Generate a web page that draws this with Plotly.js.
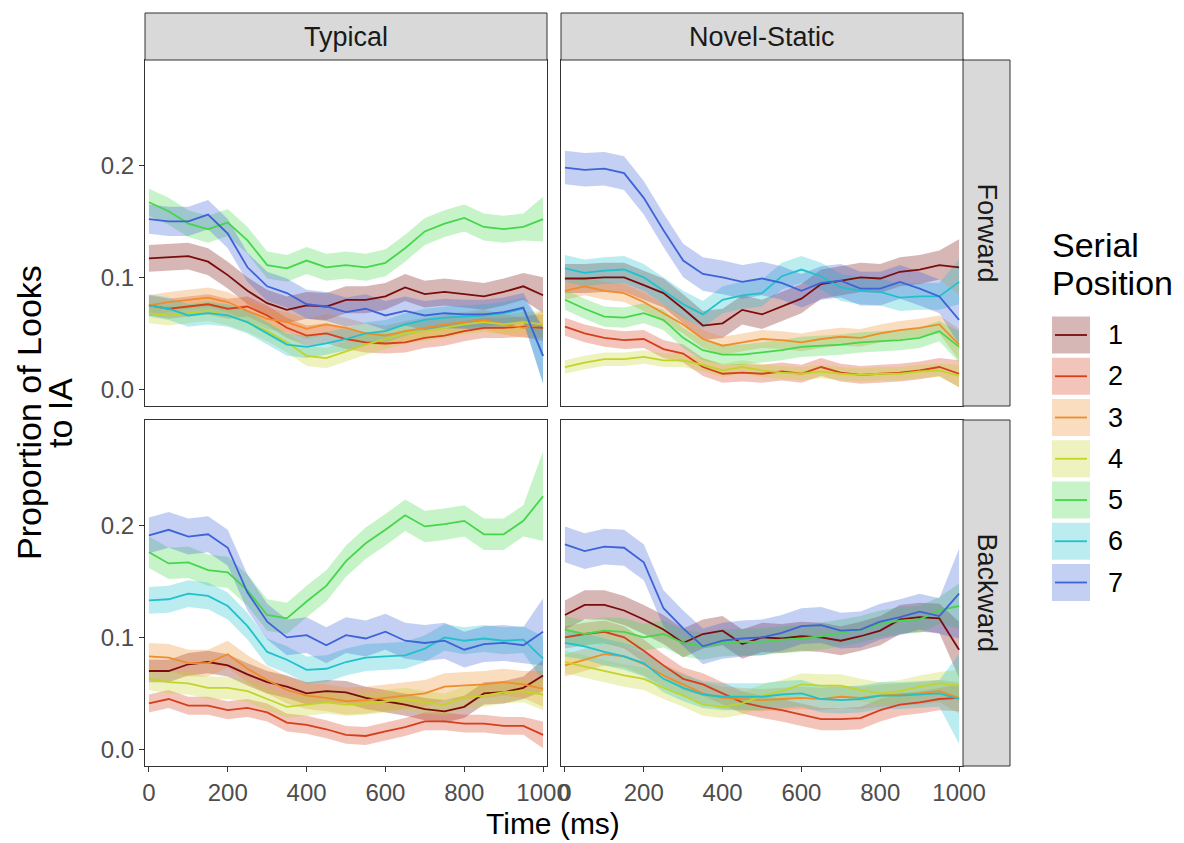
<!DOCTYPE html>
<html><head><meta charset="utf-8">
<script src="https://cdn.plot.ly/plotly-3.0.1.min.js"></script>
<style>html,body{margin:0;padding:0;background:#fff}#chart{width:1184px;height:843px}</style>
</head><body><div id="chart"></div>
<script>
const times = [0,50,100,150,200,250,300,350,400,450,500,550,600,650,700,750,800,850,900,950,1000];
const positions = ['1','2','3','4','5','6','7'];
const lineColors = ['#7a0c0c','#d63e1c','#f08c2a','#c2d42a','#46d64c','#1fc2cc','#3d63d6'];
const fillAlpha = 0.3;
const conditions = ['Typical','Novel-Static'];
const directions = ['Forward','Backward'];
const xTicks = [0,200,400,600,800,1000];
const xTickText = ['0','200','400','600','800','1000'];
const yTicks = [0,0.1,0.2];
const yTickText = ['0.0','0.1','0.2'];

// Typical / Forward, series 1..7
const typicalForward = [
 [0.117,0.118,0.119,0.114,0.102,0.088,0.077,0.071,0.075,0.074,0.080,0.080,0.083,0.091,0.085,0.087,0.085,0.083,0.087,0.092,0.084],
 [0.075,0.072,0.074,0.076,0.072,0.074,0.066,0.055,0.048,0.050,0.045,0.042,0.041,0.042,0.046,0.048,0.052,0.055,0.055,0.056,0.055],
 [0.075,0.078,0.080,0.082,0.078,0.070,0.063,0.060,0.054,0.058,0.055,0.050,0.048,0.052,0.055,0.058,0.060,0.062,0.058,0.055,0.058],
 [0.068,0.066,0.068,0.070,0.066,0.060,0.052,0.042,0.030,0.028,0.034,0.040,0.045,0.050,0.052,0.055,0.058,0.060,0.058,0.060,0.058],
 [0.167,0.159,0.148,0.143,0.149,0.133,0.111,0.108,0.115,0.109,0.111,0.109,0.113,0.126,0.141,0.148,0.153,0.145,0.143,0.145,0.152],
 [0.075,0.072,0.066,0.068,0.066,0.060,0.050,0.040,0.038,0.041,0.045,0.050,0.052,0.058,0.062,0.064,0.065,0.066,0.068,0.072,0.030],
 [0.152,0.150,0.150,0.156,0.139,0.109,0.092,0.086,0.076,0.074,0.069,0.072,0.066,0.070,0.066,0.068,0.067,0.067,0.069,0.073,0.030]
];
// Novel-Static / Forward
const novelForward = [
 [0.099,0.099,0.100,0.100,0.093,0.086,0.072,0.057,0.059,0.071,0.067,0.074,0.081,0.094,0.097,0.100,0.099,0.105,0.107,0.111,0.109],
 [0.056,0.050,0.046,0.044,0.045,0.036,0.032,0.020,0.014,0.015,0.014,0.016,0.014,0.020,0.015,0.013,0.014,0.015,0.017,0.020,0.014],
 [0.088,0.092,0.088,0.086,0.078,0.068,0.058,0.045,0.039,0.042,0.045,0.044,0.042,0.045,0.047,0.046,0.050,0.053,0.055,0.058,0.040],
 [0.020,0.024,0.027,0.027,0.029,0.026,0.026,0.022,0.017,0.020,0.017,0.015,0.014,0.016,0.014,0.013,0.014,0.014,0.016,0.017,0.012],
 [0.080,0.072,0.065,0.064,0.068,0.062,0.046,0.035,0.031,0.031,0.033,0.035,0.038,0.039,0.040,0.042,0.043,0.044,0.046,0.052,0.038],
 [0.108,0.104,0.106,0.107,0.100,0.088,0.076,0.067,0.080,0.084,0.086,0.101,0.107,0.101,0.091,0.088,0.087,0.082,0.083,0.083,0.096],
 [0.198,0.196,0.197,0.193,0.171,0.142,0.115,0.103,0.100,0.096,0.099,0.095,0.088,0.095,0.097,0.090,0.090,0.096,0.090,0.083,0.062]
];
// Typical / Backward
const typicalBackward = [
 [0.070,0.070,0.076,0.078,0.075,0.067,0.060,0.056,0.050,0.052,0.051,0.046,0.043,0.040,0.036,0.034,0.038,0.050,0.051,0.055,0.066],
 [0.041,0.045,0.039,0.039,0.035,0.037,0.033,0.024,0.022,0.018,0.013,0.012,0.016,0.020,0.025,0.025,0.023,0.023,0.021,0.021,0.013],
 [0.083,0.082,0.077,0.077,0.085,0.072,0.062,0.053,0.048,0.046,0.043,0.044,0.046,0.048,0.050,0.056,0.057,0.058,0.060,0.058,0.054],
 [0.063,0.060,0.059,0.055,0.055,0.052,0.045,0.038,0.040,0.042,0.040,0.041,0.043,0.045,0.042,0.040,0.046,0.048,0.051,0.052,0.049],
 [0.176,0.166,0.167,0.160,0.158,0.142,0.120,0.117,0.132,0.146,0.168,0.184,0.196,0.209,0.199,0.201,0.204,0.192,0.192,0.204,0.226],
 [0.133,0.134,0.139,0.137,0.128,0.110,0.087,0.080,0.071,0.072,0.078,0.082,0.083,0.084,0.090,0.100,0.097,0.099,0.097,0.098,0.081],
 [0.191,0.196,0.190,0.192,0.180,0.140,0.114,0.100,0.102,0.093,0.102,0.099,0.105,0.097,0.095,0.097,0.089,0.094,0.095,0.093,0.105]
];
// Novel-Static / Backward
const novelBackward = [
 [0.120,0.129,0.129,0.124,0.116,0.107,0.095,0.103,0.106,0.094,0.100,0.099,0.101,0.100,0.097,0.101,0.106,0.116,0.118,0.117,0.089],
 [0.100,0.103,0.105,0.100,0.088,0.075,0.063,0.058,0.050,0.042,0.038,0.035,0.031,0.027,0.027,0.028,0.035,0.040,0.042,0.045,0.046],
 [0.075,0.080,0.085,0.083,0.076,0.066,0.058,0.050,0.046,0.045,0.044,0.045,0.046,0.045,0.047,0.046,0.048,0.049,0.050,0.052,0.046],
 [0.078,0.074,0.070,0.066,0.063,0.055,0.048,0.040,0.038,0.041,0.048,0.052,0.058,0.057,0.057,0.053,0.050,0.052,0.056,0.059,0.057],
 [0.107,0.103,0.106,0.105,0.100,0.103,0.095,0.092,0.095,0.096,0.096,0.098,0.099,0.101,0.104,0.107,0.112,0.115,0.116,0.124,0.128],
 [0.095,0.092,0.087,0.083,0.077,0.063,0.055,0.049,0.047,0.047,0.047,0.049,0.050,0.045,0.044,0.045,0.048,0.048,0.049,0.050,0.045],
 [0.183,0.177,0.181,0.180,0.167,0.126,0.108,0.092,0.097,0.099,0.100,0.104,0.110,0.111,0.106,0.107,0.114,0.118,0.123,0.119,0.139]
];
// ribbon half-widths (per series), and at the final time point
const hwTypicalForward = [0.012,0.009,0.009,0.009,0.012,0.010,0.013];
const hwEndTypicalForward = [0.016,0.012,0.012,0.012,0.020,0.025,0.025];
const hwNovelForward = [0.013,0.008,0.008,0.006,0.009,0.012,0.015];
const hwEndNovelForward = [0.025,0.012,0.014,0.010,0.014,0.020,0.022];
const hwTypicalBackward = [0.010,0.008,0.012,0.010,0.014,0.012,0.016];
const hwEndTypicalBackward = [0.014,0.012,0.016,0.014,0.040,0.020,0.030];
const hwNovelBackward = [0.013,0.010,0.010,0.010,0.012,0.012,0.016];
const hwEndNovelBackward = [0.025,0.012,0.014,0.014,0.020,0.040,0.040];

const W = 1184, H = 843;
const px = x => x / W, py = y => 1 - y / H;

function rgba(hex, a) {
  const n = parseInt(hex.slice(1), 16);
  return `rgba(${(n>>16)&255},${(n>>8)&255},${n&255},${a})`;
}

const panels = [
  {data: typicalForward, hw: hwTypicalForward, hwEnd: hwEndTypicalForward, xa: 'x', ya: 'y'},
  {data: novelForward, hw: hwNovelForward, hwEnd: hwEndNovelForward, xa: 'x2', ya: 'y2'},
  {data: typicalBackward, hw: hwTypicalBackward, hwEnd: hwEndTypicalBackward, xa: 'x3', ya: 'y3'},
  {data: novelBackward, hw: hwNovelBackward, hwEnd: hwEndNovelBackward, xa: 'x4', ya: 'y4'}
];

const traces = [];
panels.forEach(p => {
  p.data.forEach((vals, s) => {
    const hwAt = i => (i === vals.length - 1 ? p.hwEnd[s] : p.hw[s]);
    const upper = vals.map((v, i) => v + hwAt(i));
    const lower = vals.map((v, i) => v - hwAt(i));
    traces.push({
      type: 'scatter', mode: 'lines', xaxis: p.xa, yaxis: p.ya,
      x: times.concat(times.slice().reverse()),
      y: upper.concat(lower.slice().reverse()),
      fill: 'toself', fillcolor: rgba(lineColors[s], fillAlpha),
      line: {width: 0, color: 'rgba(0,0,0,0)'}, hoverinfo: 'skip', showlegend: false
    });
  });
});
panels.forEach(p => {
  p.data.forEach((vals, s) => {
    traces.push({
      type: 'scatter', mode: 'lines', xaxis: p.xa, yaxis: p.ya,
      x: times, y: vals, name: positions[s],
      line: {color: lineColors[s], width: 1.8}, showlegend: false
    });
  });
});

const font = 'Liberation Sans, Arial, sans-serif';
const tickFont = {family: font, size: 24, color: '#4d4d4d'};
const xRange = [-10, 1010], yRange = [-0.0148, 0.294];
const colX = [[145, 547], [561, 963]];
const rowY = [[60, 406], [420, 766]];

function xAxis(col, row) {
  return {
    domain: [px(colX[col][0]), px(colX[col][1])], range: xRange, anchor: row === 0 ? (col === 0 ? 'y' : 'y2') : (col === 0 ? 'y3' : 'y4'),
    showgrid: false, zeroline: false, showline: true, mirror: true, linecolor: '#333333', linewidth: 1,
    tickvals: xTicks, ticktext: xTickText, ticks: row === 1 ? 'outside' : '', ticklen: 5, tickcolor: '#333333',
    showticklabels: row === 1, tickfont: tickFont, fixedrange: true
  };
}
function yAxis(col, row) {
  return {
    domain: [py(rowY[row][1]), py(rowY[row][0])], range: yRange, anchor: row === 0 ? (col === 0 ? 'x' : 'x2') : (col === 0 ? 'x3' : 'x4'),
    showgrid: false, zeroline: false, showline: true, mirror: true, linecolor: '#333333', linewidth: 1,
    tickvals: yTicks, ticktext: yTickText, ticks: col === 0 ? 'outside' : '', ticklen: 5, tickcolor: '#333333',
    showticklabels: col === 0, tickfont: tickFont, fixedrange: true
  };
}

const shapes = [];
const annotations = [];
// top strips
conditions.forEach((c, i) => {
  shapes.push({type: 'rect', xref: 'paper', yref: 'paper', x0: px(colX[i][0]), x1: px(colX[i][1]), y0: py(60), y1: py(13),
    fillcolor: '#d9d9d9', line: {color: '#333333', width: 1}});
  annotations.push({xref: 'paper', yref: 'paper', x: px((colX[i][0] + colX[i][1]) / 2), y: py(37), text: c, showarrow: false,
    font: {family: font, size: 27, color: '#1a1a1a'}, xanchor: 'center', yanchor: 'middle'});
});
// right strips
directions.forEach((d, j) => {
  shapes.push({type: 'rect', xref: 'paper', yref: 'paper', x0: px(963), x1: px(1010), y0: py(rowY[j][1]), y1: py(rowY[j][0]),
    fillcolor: '#d9d9d9', line: {color: '#333333', width: 1}});
  annotations.push({xref: 'paper', yref: 'paper', x: px(986.5), y: py((rowY[j][0] + rowY[j][1]) / 2), text: d, showarrow: false,
    textangle: 90, font: {family: font, size: 27, color: '#1a1a1a'}, xanchor: 'center', yanchor: 'middle'});
});
// axis titles
annotations.push({xref: 'paper', yref: 'paper', x: px(553), y: py(842), text: 'Time (ms)', showarrow: false,
  font: {family: font, size: 30, color: '#000000'}, xanchor: 'center', yanchor: 'bottom'});
annotations.push({xref: 'paper', yref: 'paper', x: px(29), y: py(413), text: 'Proportion of Looks', showarrow: false,
  textangle: -90, font: {family: font, size: 34, color: '#000000'}, xanchor: 'center', yanchor: 'middle'});
annotations.push({xref: 'paper', yref: 'paper', x: px(60), y: py(413), text: 'to IA', showarrow: false,
  textangle: -90, font: {family: font, size: 34, color: '#000000'}, xanchor: 'center', yanchor: 'middle'});
// legend
annotations.push({xref: 'paper', yref: 'paper', x: px(1050), y: py(245), text: 'Serial', showarrow: false,
  font: {family: font, size: 34, color: '#000000'}, xanchor: 'left', yanchor: 'middle'});
annotations.push({xref: 'paper', yref: 'paper', x: px(1050), y: py(283), text: 'Position', showarrow: false,
  font: {family: font, size: 34, color: '#000000'}, xanchor: 'left', yanchor: 'middle'});
positions.forEach((p, i) => {
  const cy = 335 + 41.25 * i;
  shapes.push({type: 'rect', xref: 'paper', yref: 'paper', x0: px(1052), x1: px(1090), y0: py(cy + 18.5), y1: py(cy - 18.5),
    fillcolor: rgba(lineColors[i], fillAlpha), line: {width: 0}});
  shapes.push({type: 'line', xref: 'paper', yref: 'paper', x0: px(1055), x1: px(1087), y0: py(cy), y1: py(cy),
    line: {color: lineColors[i], width: 1.8}});
  annotations.push({xref: 'paper', yref: 'paper', x: px(1106), y: py(cy), text: p, showarrow: false,
    font: {family: font, size: 27, color: '#000000'}, xanchor: 'left', yanchor: 'middle'});
});

const layout = {
  width: W, height: H, margin: {l: 0, r: 0, t: 0, b: 0}, paper_bgcolor: '#ffffff', plot_bgcolor: '#ffffff',
  showlegend: false,
  xaxis: xAxis(0, 0), yaxis: yAxis(0, 0),
  xaxis2: xAxis(1, 0), yaxis2: yAxis(1, 0),
  xaxis3: xAxis(0, 1), yaxis3: yAxis(0, 1),
  xaxis4: xAxis(1, 1), yaxis4: yAxis(1, 1),
  shapes: shapes, annotations: annotations
};

Plotly.newPlot('chart', traces, layout, {displayModeBar: false, staticPlot: true});
</script></body></html>
